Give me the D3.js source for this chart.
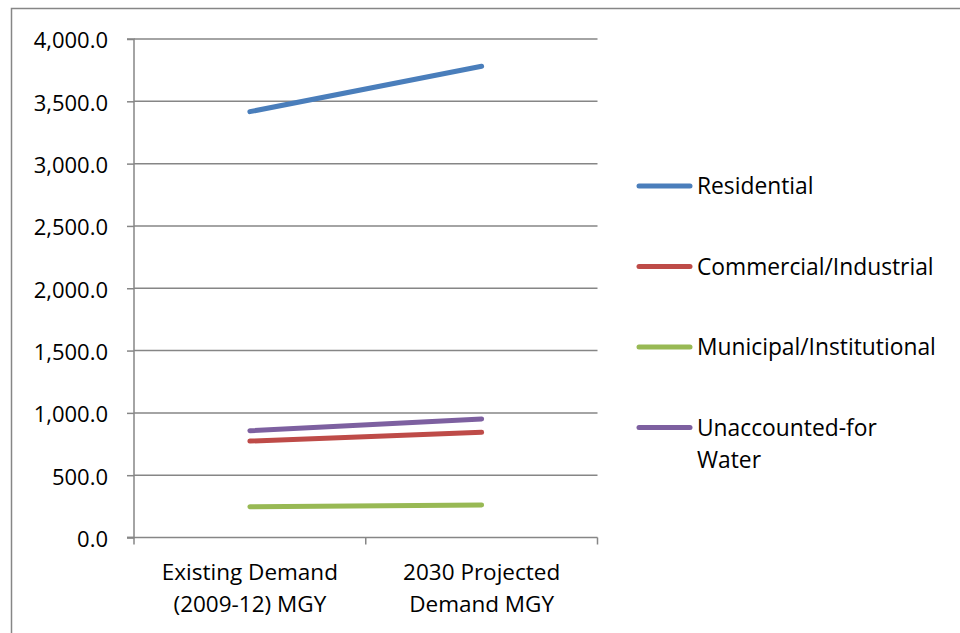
<!DOCTYPE html>
<html>
<head>
<meta charset="utf-8">
<script src="https://cdn.jsdelivr.net/npm/d3@7"></script>
<style>
  html, body { margin: 0; padding: 0; background: #fff; }
  svg { display: block; }
  text { font-family: "Open Sans", "Noto Sans", sans-serif; fill: #000; }
</style>
</head>
<body>
<svg id="chart" width="960" height="633"></svg>
<script>
// Water demand by category, million gallons per year
const categories = ["Existing Demand\n(2009-12) MGY", "2030 Projected\nDemand MGY"];
const seriesNames = ["Residential", "Commercial/Industrial", "Municipal/Institutional", "Unaccounted-for\nWater"];
const residential = [3417, 3781];
const commercialIndustrial = [774, 844];
const municipalInstitutional = [247, 261];
const unaccountedWater = [857, 951];
const yTicks = [0, 500, 1000, 1500, 2000, 2500, 3000, 3500, 4000];
const colors = ["#4a7ebb", "#be4b48", "#98b954", "#7d60a0"];

const seriesValues = [residential, commercialIndustrial, municipalInstitutional, unaccountedWater];

const svg = d3.select("#chart");
const plot = { left: 134, right: 597.5, top: 39, bottom: 537.5 };
const axisColor = "#868686";

// outer chart frame (runs off the right and bottom edges)
svg.append("rect")
  .attr("x", 11.5).attr("y", 8.5)
  .attr("width", 1000).attr("height", 700)
  .attr("fill", "none").attr("stroke", axisColor).attr("stroke-width", 1.5);

const x = d3.scaleBand().domain(categories).range([plot.left, plot.right]);
const y = d3.scaleLinear().domain([0, 4000]).range([plot.bottom, plot.top]);

// horizontal gridlines
svg.append("g").selectAll("line").data(yTicks.filter(t => t > 0)).join("line")
  .attr("x1", plot.left).attr("x2", plot.right)
  .attr("y1", d => y(d)).attr("y2", d => y(d))
  .attr("stroke", axisColor).attr("stroke-width", 1.5);

// y axis
const yAxis = d3.axisLeft(y).tickValues(yTicks).tickSize(7).tickPadding(19)
  .tickFormat(d => d3.format(",.1f")(d));
const gy = svg.append("g").attr("transform", `translate(${plot.left},0)`).call(yAxis);
gy.select(".domain").attr("stroke", axisColor).attr("stroke-width", 1.5)
  .attr("d", `M-7,${plot.top}H0V${plot.bottom}H-7`);
gy.selectAll(".tick line").attr("stroke", axisColor).attr("stroke-width", 1.5);
gy.selectAll(".tick text").style("font-size", "22px").attr("fill", "#000").attr("dy", "0.4em");

// x axis baseline with boundary ticks
const gx = svg.append("g");
gx.append("line").attr("x1", plot.left - 7).attr("x2", plot.right)
  .attr("y1", plot.bottom).attr("y2", plot.bottom)
  .attr("stroke", axisColor).attr("stroke-width", 1.5);
const bounds = [plot.left, ...categories.map(c => x(c) + x.bandwidth())];
gx.selectAll("line.tk").data(bounds).join("line").attr("class", "tk")
  .attr("x1", d => d).attr("x2", d => d)
  .attr("y1", plot.bottom).attr("y2", plot.bottom + 7)
  .attr("stroke", axisColor).attr("stroke-width", 1.5);

// category labels
const lbl = gx.selectAll("text").data(categories).join("text")
  .attr("text-anchor", "middle")
  .style("font-size", "22.5px");
lbl.each(function(d) {
  const t = d3.select(this);
  d.split("\n").forEach((s, i) => {
    t.append("tspan").attr("x", x(d) + x.bandwidth() / 2)
      .attr("y", 580 + i * 32).text(s);
  });
});

// series lines
const line = d3.line()
  .x((d, i) => x(categories[i]) + x.bandwidth() / 2)
  .y(d => y(d));
svg.append("g").selectAll("path").data(seriesValues).join("path")
  .attr("d", d => line(d))
  .attr("fill", "none")
  .attr("stroke", (d, i) => colors[i])
  .attr("stroke-width", 5)
  .attr("stroke-linecap", "round");

// legend
const legendRows = [186, 266.5, 347, 427.5];
const lg = svg.append("g").selectAll("g").data(seriesNames).join("g")
  .attr("transform", (d, i) => `translate(0,${legendRows[i]})`);
lg.append("line").attr("x1", 639).attr("x2", 690)
  .attr("stroke", (d, i) => colors[i]).attr("stroke-width", 5)
  .attr("stroke-linecap", "round");
lg.append("text").style("font-size", "22.8px")
  .each(function(d) {
    const t = d3.select(this);
    d.split("\n").forEach((s, i) => {
      t.append("tspan").attr("x", 697).attr("y", 8 + i * 32).text(s);
    });
  });
</script>
</body>
</html>
